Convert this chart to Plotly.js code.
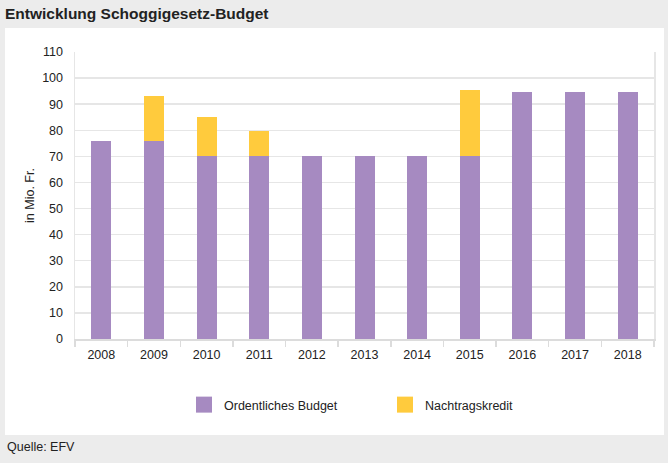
<!DOCTYPE html>
<html>
<head>
<meta charset="utf-8">
<script src="https://cdn.plot.ly/plotly-3.0.1.min.js"></script>
<style>
  html, body { margin: 0; padding: 0; background: #ececec; }
  #chart { width: 668px; height: 463px; }
</style>
</head>
<body>
<div id="chart"></div>
<script>
const years = ["2008", "2009", "2010", "2011", "2012", "2013", "2014", "2015", "2016", "2017", "2018"];
const ordentlichesBudget = [75.8, 75.8, 70, 70, 70, 70, 70, 70, 94.6, 94.6, 94.6];
const nachtragskredit = [0, 17.3, 15.1, 9.9, 0, 0, 0, 25.6, 0, 0, 0];
const seriesNames = ["Ordentliches Budget", "Nachtragskredit"];
const yTicks = [0, 10, 20, 30, 40, 50, 60, 70, 80, 90, 100, 110];

const purple = "#A68AC1";
const yellow = "#FFCB3D";
const font = "Liberation Sans, Arial, sans-serif";

const traces = [
  { type: "bar", x: years, y: ordentlichesBudget, name: seriesNames[0],
    marker: { color: purple, line: { width: 0 } }, showlegend: false, hoverinfo: "skip" },
  { type: "bar", x: years, y: nachtragskredit, name: seriesNames[1],
    marker: { color: yellow, line: { width: 0 } }, showlegend: false, hoverinfo: "skip" },
  { type: "scatter", mode: "markers", x: [null], y: [null], name: seriesNames[0],
    marker: { symbol: "square", size: 16, color: purple }, showlegend: true, hoverinfo: "skip" },
  { type: "scatter", mode: "markers", x: [null], y: [null], name: seriesNames[1],
    marker: { symbol: "square", size: 16, color: yellow }, showlegend: true, hoverinfo: "skip" }
];

const plotL = 75, plotR = 654, plotT = 52, plotB = 339, W = 668, H = 463;

const layout = {
  width: W, height: H,
  margin: { l: plotL, r: W - plotR, t: plotT, b: H - plotB, pad: 0 },
  paper_bgcolor: "#ececec",
  plot_bgcolor: "rgba(0,0,0,0)",
  barmode: "stack",
  bargap: 0.62,
  font: { family: font, size: 12.5, color: "#222222" },
  title: {
    text: "<b>Entwicklung Schoggigesetz-Budget</b>",
    font: { family: font, size: 15.5, color: "#222222" },
    xref: "container", x: 5 / W, xanchor: "left",
    yref: "container", y: 1 - 14 / H, yanchor: "middle"
  },
  xaxis: {
    type: "category",
    showgrid: false,
    showline: true, linecolor: "#dcdcdc", linewidth: 1.5,
    ticks: "outside", tickson: "boundaries", ticklen: 6, tickcolor: "#dcdcdc", tickwidth: 1.5,
    ticklabelstandoff: 3,
    tickfont: { family: font, size: 12.5, color: "#222222" },
    fixedrange: true
  },
  yaxis: {
    range: [0, 110],
    tickvals: yTicks,
    ticktext: yTicks.map(String),
    showgrid: true, gridcolor: "#e6e6e6", gridwidth: 1.5,
    zeroline: false,
    showline: true, mirror: true, linecolor: "#e6e6e6", linewidth: 1.5,
    ticks: "", ticklabelstandoff: 8,
    tickfont: { family: font, size: 12.5, color: "#222222" },
    title: { text: "in Mio. Fr.", font: { family: font, size: 12.5, color: "#222222" }, standoff: 5 },
    automargin: false,
    fixedrange: true
  },
  legend: {
    orientation: "h",
    traceorder: "normal",
    x: (184 - plotL) / (plotR - plotL), xanchor: "left",
    y: (plotB - 405) / (plotB - plotT), yanchor: "middle",
    entrywidth: 156,
    font: { family: font, size: 12.5, color: "#222222" },
    bgcolor: "rgba(0,0,0,0)",
    itemclick: false, itemdoubleclick: false
  },
  shapes: [
    { type: "rect", layer: "below", xref: "paper", yref: "paper",
      xsizemode: "pixel", ysizemode: "pixel", xanchor: 0, yanchor: 0,
      x0: 5 - plotL, x1: 664 - plotL, y0: plotB - 435, y1: plotB - 28,
      fillcolor: "#ffffff", line: { width: 0 } }
  ],
  annotations: [
    { text: "Quelle: EFV", xref: "paper", yref: "paper",
      x: (5 - plotL) / (plotR - plotL), xanchor: "left",
      y: (plotB - 447.5) / (plotB - plotT), yanchor: "middle",
      showarrow: false, font: { family: font, size: 12.5, color: "#222222" } }
  ],
  hovermode: false
};

Plotly.newPlot("chart", traces, layout, { displayModeBar: false, staticPlot: true });
</script>
</body>
</html>
